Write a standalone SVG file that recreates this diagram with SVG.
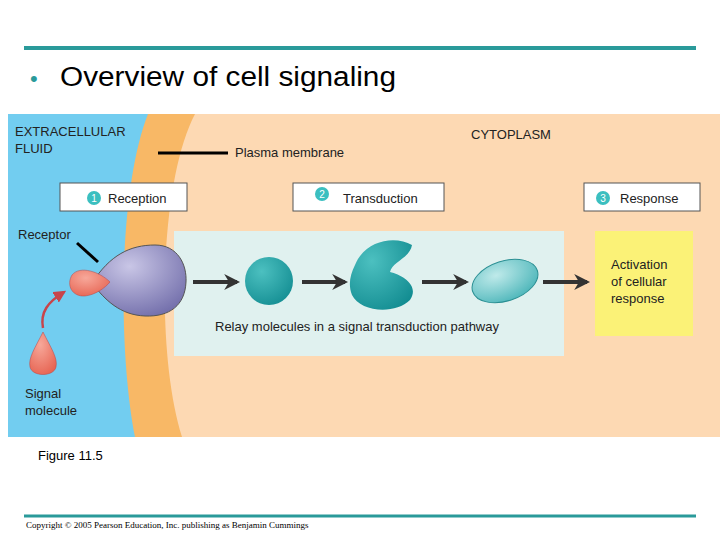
<svg xmlns="http://www.w3.org/2000/svg" width="720" height="540" viewBox="0 0 720 540">
<defs>
<style>
text{font-family:"Liberation Sans",Arial,sans-serif;fill:#222}
.lbl{font-size:13px}
.box{fill:#fff;stroke:#555;stroke-width:1}
.arr{stroke:#333;stroke-width:4;fill:none;marker-end:url(#ah)}
.num{fill:#3bbfc0}
</style>
<marker id="ah" viewBox="0 0 10 10" refX="8" refY="5" markerWidth="4" markerHeight="4" orient="auto"><path d="M0,0 L10,5 L0,10 L3,5 Z" fill="#333"/></marker>
<marker id="rh" viewBox="0 0 10 10" refX="8" refY="5" markerWidth="5" markerHeight="5" orient="auto"><path d="M0,0 L10,5 L0,10 Z" fill="#c8444a"/></marker>
<radialGradient id="pur" cx="0.4" cy="0.3" r="0.8"><stop offset="0" stop-color="#c9c6e6"/><stop offset="1" stop-color="#6e6aa8"/></radialGradient>
<radialGradient id="teal" cx="0.35" cy="0.3" r="0.8"><stop offset="0" stop-color="#4cc0c0"/><stop offset="1" stop-color="#138d92"/></radialGradient>
<radialGradient id="lteal" cx="0.4" cy="0.3" r="0.8"><stop offset="0" stop-color="#bfeaea"/><stop offset="1" stop-color="#44b2b6"/></radialGradient>
<radialGradient id="red" cx="0.4" cy="0.3" r="0.8"><stop offset="0" stop-color="#f7a89a"/><stop offset="1" stop-color="#e6614f"/></radialGradient>
</defs>
<rect width="720" height="540" fill="#fff"/>
<line x1="24" y1="48" x2="696" y2="48" stroke="#2a9a9a" stroke-width="4"/>
<text x="30" y="86" style="font-size:22px;fill:#2a9a9a">•</text>
<text x="60" y="86" style="font-size:27px;fill:#000" textLength="336" lengthAdjust="spacingAndGlyphs">Overview of cell signaling</text>
<g id="panel">
<rect x="8" y="114" width="712" height="323" fill="#fdd9b3"/>
<path d="M8,114 H195 C160,180 155,350 182,437 H8 Z" fill="#f8b866"/>
<path d="M8,114 H148 C118,190 118,350 135,437 H8 Z" fill="#72cdf0"/>
<rect x="174" y="231" width="390" height="125" fill="#e0f1ef"/>
<rect x="595" y="231" width="98" height="105" fill="#fbf277"/>
</g>
<g id="labels">
<text x="15" y="136" class="lbl">EXTRACELLULAR</text>
<text x="15" y="153" class="lbl">FLUID</text>
<line x1="158" y1="153" x2="228" y2="153" stroke="#000" stroke-width="3"/>
<text x="235" y="157" class="lbl">Plasma membrane</text>
<text x="471" y="139" class="lbl">CYTOPLASM</text>
<text x="18" y="239" class="lbl">Receptor</text>
<text x="215" y="331" class="lbl">Relay molecules in a signal transduction pathway</text>
<text x="25" y="398" class="lbl">Signal</text>
<text x="25" y="415" class="lbl">molecule</text>
<text x="611" y="269" class="lbl">Activation</text>
<text x="611" y="286" class="lbl">of cellular</text>
<text x="611" y="303" class="lbl">response</text>
<text x="38" y="460" style="font-size:13px;fill:#000">Figure 11.5</text>
<line x1="24" y1="516" x2="696" y2="516" stroke="#2a9a9a" stroke-width="3"/>
<text x="26" y="528" style="font-family:'Liberation Serif',serif;font-size:9px;fill:#000">Copyright © 2005 Pearson Education, Inc. publishing as Benjamin Cummings</text>
</g>
<g id="step1"><rect class="box" x="60" y="183" width="127" height="28"/><circle class="num" cx="94" cy="198" r="7"/><text x="94" y="202" text-anchor="middle" style="font-size:10px;fill:#fff">1</text><text x="108" y="203" class="lbl">Reception</text></g>
<g id="step2"><rect class="box" x="293" y="183" width="151" height="28"/><circle class="num" cx="322" cy="194" r="7"/><text x="322" y="198" text-anchor="middle" style="font-size:10px;fill:#fff">2</text><text x="343" y="203" class="lbl">Transduction</text></g>
<g id="step3"><rect class="box" x="584" y="183" width="116" height="28"/><circle class="num" cx="603" cy="198" r="7"/><text x="603" y="202" text-anchor="middle" style="font-size:10px;fill:#fff">3</text><text x="620" y="203" class="lbl">Response</text></g>
<g id="receptor"><path d="M92,283 C110,255 130,245 155,245 C178,245 187,265 186,282 C185,305 170,317 145,316 C120,315 105,300 92,283 Z" fill="url(#pur)" stroke="#555" stroke-width="1"/>
<path d="M110,282 C100,272 80,265 72,275 C66,285 72,297 85,296 C95,295 105,288 110,282 Z" fill="url(#red)" stroke="#b44" stroke-width="0.5"/></g>
<g id="relay1"><circle cx="269" cy="281" r="24" fill="url(#teal)"/></g>
<g id="relay2"><path d="M355,265 C365,240 395,235 412,245 C410,258 392,262 390,272 C402,275 420,285 410,300 C395,315 360,312 352,295 C348,285 350,275 355,265 Z" fill="url(#teal)"/></g>
<g id="relay3"><ellipse cx="505" cy="281" rx="34" ry="20" transform="rotate(-18 505 281)" fill="url(#lteal)" stroke="#2a8f93" stroke-width="1"/></g>
<g id="signal"><path d="M43,332 C35,348 28,358 30,367 C32,377 54,377 56,367 C58,358 51,348 43,332 Z" fill="url(#red)" stroke="#b44" stroke-width="0.5"/></g>
<g id="connectors">
<line x1="77" y1="243" x2="98" y2="262" stroke="#000" stroke-width="3"/>
<path class="arr" d="M193,282 H237"/>
<path class="arr" d="M302,282 H345"/>
<path class="arr" d="M422,282 H466"/>
<path class="arr" d="M543,282 H587"/>
<path d="M43,328 C40,312 48,302 64,292" stroke="#c8444a" stroke-width="2.5" fill="none" marker-end="url(#rh)"/>
</g>
</svg>
